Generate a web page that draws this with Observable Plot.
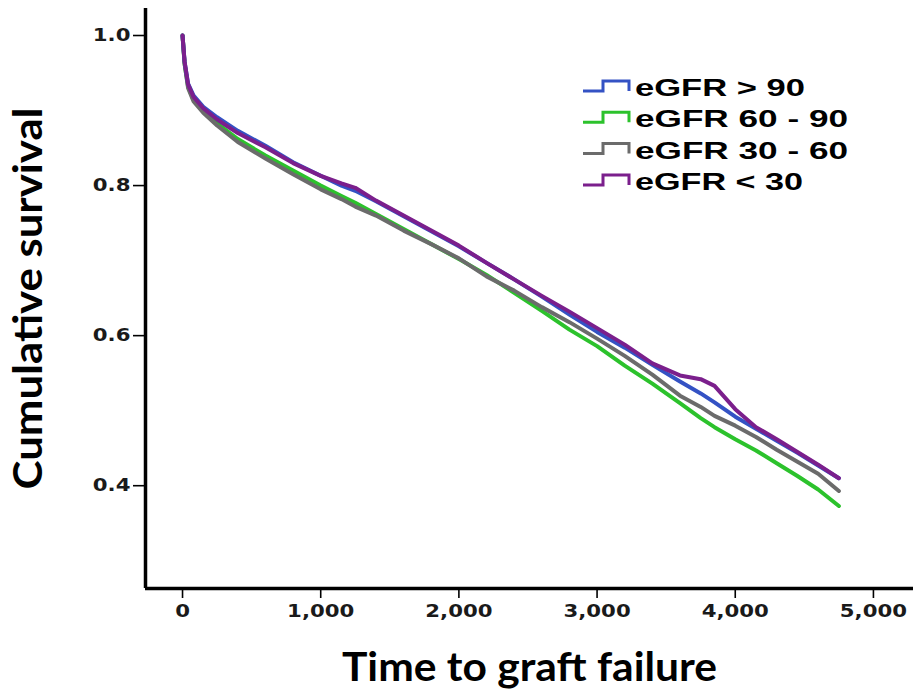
<!DOCTYPE html>
<html>
<head>
<meta charset="utf-8">
<script src="https://cdn.jsdelivr.net/npm/d3@7"></script>
<script src="https://cdn.jsdelivr.net/npm/@observablehq/plot@0.6"></script>
<style>
  body { margin: 0; background: #fff; }
  #wrap { position: relative; width: 913px; height: 695px; overflow: hidden; }
  #legend { position: absolute; left: 0; top: 0; pointer-events: none; }
  [aria-label="x-axis label"] text, [aria-label="y-axis label"] text {
    font-family: Lato, "Open Sans", sans-serif !important;
    font-size: 40px !important;
    font-weight: 700 !important;
    fill: #000;
  }
  [aria-label="x-axis tick label"] text, [aria-label="y-axis tick label"] text {
    font-family: "DejaVu Sans", sans-serif !important;
    font-size: 17px !important;
    font-weight: 700 !important;
    fill: #1a1a1a;
  }
</style>
</head>
<body>
<div id="wrap"></div>
<script>
// Time (days) sample points shared by all curves
const times = [0, 15, 40, 80, 150, 250, 400, 600, 800, 1000, 1150, 1250, 1400, 1600, 1800, 2000,
  2200, 2400, 2600, 2800, 3000, 3200, 3400, 3600, 3750, 3850, 4000, 4150, 4300, 4450, 4600, 4750];

// Cumulative survival per eGFR group
const gfrOver90 = [1.0, 0.965, 0.936, 0.920, 0.905, 0.891, 0.873, 0.853, 0.831, 0.813, 0.800, 0.793,
  0.779, 0.759, 0.739, 0.719, 0.697, 0.675, 0.652, 0.628, 0.605, 0.584, 0.561, 0.539, 0.523, 0.511,
  0.492, 0.476, 0.460, 0.444, 0.427, 0.410];
const gfr60to90 = [1.0, 0.962, 0.932, 0.914, 0.899, 0.883, 0.862, 0.840, 0.820, 0.800, 0.786, 0.777,
  0.762, 0.742, 0.722, 0.702, 0.681, 0.657, 0.633, 0.608, 0.586, 0.560, 0.536, 0.510, 0.490, 0.478,
  0.462, 0.447, 0.430, 0.413, 0.395, 0.373];
const gfr30to60 = [1.0, 0.962, 0.930, 0.912, 0.897, 0.880, 0.858, 0.836, 0.815, 0.795, 0.782, 0.772,
  0.760, 0.740, 0.722, 0.703, 0.679, 0.660, 0.638, 0.618, 0.596, 0.573, 0.548, 0.520, 0.505, 0.493,
  0.480, 0.465, 0.448, 0.432, 0.416, 0.393];
const gfrUnder30 = [1.0, 0.965, 0.935, 0.918, 0.903, 0.888, 0.870, 0.851, 0.830, 0.813, 0.803, 0.797,
  0.780, 0.760, 0.740, 0.720, 0.697, 0.675, 0.653, 0.632, 0.610, 0.588, 0.563, 0.547, 0.542, 0.533,
  0.502, 0.478, 0.462, 0.445, 0.428, 0.410];

const groupNames = ["eGFR > 90", "eGFR 60 - 90", "eGFR 30 - 60", "eGFR < 30"];
const groupColors = ["#3452c4", "#2cc22c", "#6b6b6b", "#7b1f8c"];
const drawOrder = ["eGFR 60 - 90", "eGFR 30 - 60", "eGFR > 90", "eGFR < 30"];

const xTicks = [0, 1000, 2000, 3000, 4000, 5000];
const yTicks = [0.4, 0.6, 0.8, 1.0];
const xDomain = [-268, 5290];
const yDomain = [0.263, 1.036];

const seriesValues = {
  "eGFR > 90": gfrOver90,
  "eGFR 60 - 90": gfr60to90,
  "eGFR 30 - 60": gfr30to60,
  "eGFR < 30": gfrUnder30
};
const rows = drawOrder.flatMap(g => times.map((t, i) => ({group: g, t, s: seriesValues[g][i]})));

const chart = Plot.plot({
  width: 913,
  height: 695,
  marginLeft: 145,
  marginRight: 0,
  marginTop: 8,
  marginBottom: 107,
  style: {fontFamily: "DejaVu Sans", background: "#fff", color: "#000"},
  x: {domain: xDomain},
  y: {domain: yDomain},
  color: {domain: groupNames, range: groupColors},
  marks: [
    Plot.axisY(yTicks, {
      tickSize: 12, tickPadding: 3, tickFormat: d3.format(".1f"),
      fontSize: 17, fontWeight: "bold", fill: "#1a1a1a", strokeWidth: 1.6,
      label: "Cumulative survival", labelAnchor: "center", labelArrow: "none", labelOffset: 132
    }),
    Plot.axisX(xTicks, {
      tickSize: 10, tickPadding: 6, tickFormat: d3.format(","),
      fontSize: 17, fontWeight: "bold", fill: "#1a1a1a", strokeWidth: 1.6,
      label: "Time to graft failure", labelAnchor: "center", labelArrow: "none", labelOffset: 92
    }),
    Plot.ruleX([xDomain[0]], {stroke: "#000", strokeWidth: 3.5}),
    Plot.ruleY([yDomain[0]], {stroke: "#000", strokeWidth: 3.5}),
    Plot.line(rows, {x: "t", y: "s", z: "group", stroke: "group", strokeWidth: 4, curve: "linear"})
  ]
});

const wrap = document.getElementById("wrap");
wrap.appendChild(chart);

// Axis title widths
const xl = chart.querySelector('[aria-label="x-axis label"] text');
if (xl) { xl.setAttribute("textLength", 375); xl.setAttribute("lengthAdjust", "spacingAndGlyphs"); }
const yl = chart.querySelector('[aria-label="y-axis label"] text');
if (yl) { yl.setAttribute("textLength", 382); yl.setAttribute("lengthAdjust", "spacingAndGlyphs"); }

// Tick labels: slightly wide, as in the source figure
chart.querySelectorAll('[aria-label="x-axis tick label"] text, [aria-label="y-axis tick label"] text')
  .forEach(t => {
    const len = t.getComputedTextLength();
    if (len > 0) {
      t.setAttribute("textLength", (len * 1.25).toFixed(1));
      t.setAttribute("lengthAdjust", "spacingAndGlyphs");
    }
  });

// Legend (overlay inside the plot area)
const legendWidths = [170, 213, 213, 168];
const legend = d3.select(wrap).append("svg")
  .attr("id", "legend").attr("width", 913).attr("height", 695);
const rowGap = 31.3;
groupNames.forEach((name, i) => {
  const base = 96 + i * rowGap;
  const g = legend.append("g");
  g.append("path")
    .attr("d", `M583,${base - 5}H603V${base - 15}H629V${base - 5}`)
    .attr("fill", "none").attr("stroke", groupColors[i]).attr("stroke-width", 3);
  g.append("text")
    .attr("x", 635).attr("y", base)
    .attr("font-family", "Liberation Sans, Arial, sans-serif")
    .attr("font-weight", "bold").attr("font-size", 24)
    .attr("textLength", legendWidths[i]).attr("lengthAdjust", "spacingAndGlyphs")
    .attr("fill", "#000")
    .text(name);
});
</script>
</body>
</html>
